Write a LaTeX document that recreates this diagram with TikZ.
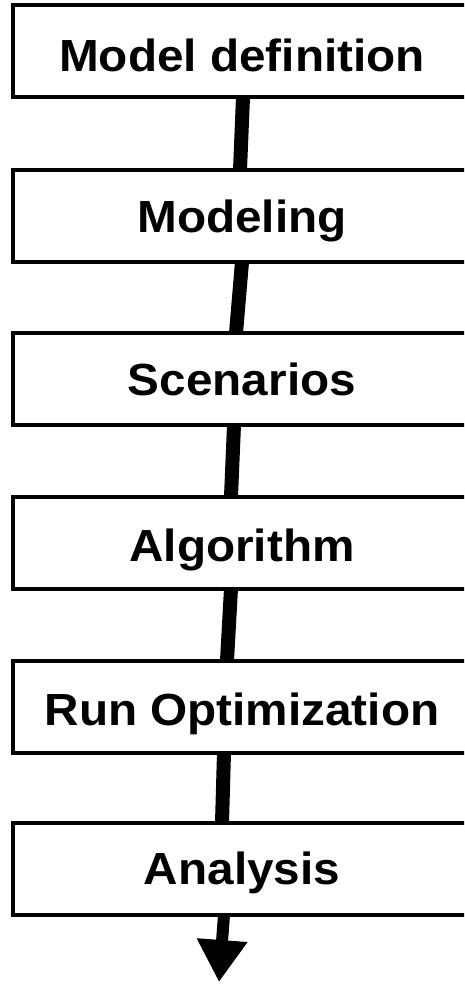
\documentclass[tikz,border=0pt]{standalone}
\usepackage{fontspec}
\usepackage{graphicx}
\setmainfont{Liberation Sans}
\usetikzlibrary{arrows.meta}
\tikzset{
  stagebox/.style={draw=black, line width=4pt, fill=white, minimum width=458pt, minimum height=92pt, inner sep=0pt, outer sep=0pt},
  stagetext/.style={anchor=base, inner sep=0pt, font=\fontsize{45}{52}\selectfont\bfseries},
  link/.style={line width=14pt, black},
}
\newcommand{\wide}[1]{\scalebox{1.06}[1]{#1}}
\begin{document}
\begin{tikzpicture}[x=1pt,y=-1pt]
\useasboundingbox (0,0) rectangle (464,984);
\clip (0,0) rectangle (464,984);
% boxes
\node[stagebox] (b1) at (242,51) {};
\node[stagebox] (b2) at (242,216) {};
\node[stagebox] (b3) at (242,379) {};
\node[stagebox] (b4) at (242,542.5) {};
\node[stagebox] (b5) at (242,706.5) {};
\node[stagebox] (b6) at (242,869) {};
% texts
\node[stagetext] (t1) at (242,72) {\wide{Model definition}};
\node[stagetext] (t2) at (242,233) {\wide{Modeling}};
\node[stagetext] (t3) at (242,395) {\wide{Scenarios}};
\node[stagetext] (t4) at (242,561) {\wide{Algorithm}};
\node[stagetext] (t5) at (242,725) {\wide{Run Optimization}};
\node[stagetext] (t6) at (242,884) {\wide{Analysis}};
% connectors
\draw[link] ([xshift=1pt]b1.south) -- ([xshift=-2pt]b2.north);
\draw[link] ([xshift=0pt]b2.south) -- ([xshift=-6pt]b3.north);
\draw[link] ([xshift=-8pt]b3.south) -- ([xshift=-11pt]b4.north);
\draw[link] ([xshift=-11pt]b4.south) -- ([xshift=-15pt]b5.north);
\draw[link] ([xshift=-18pt]b5.south) -- ([xshift=-20pt]b6.north);
\coordinate (end) at (219,982);
\draw[line width=12pt, -{Triangle[width=48pt,length=42pt]}] ([xshift=-18pt]b6.south) -- (end);
\end{tikzpicture}
\end{document}
